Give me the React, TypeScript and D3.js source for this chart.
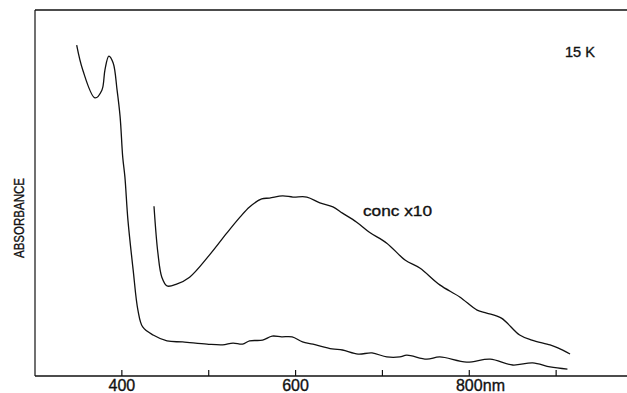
import * as d3 from 'd3';

// absorption spectrum at 15 K, arbitrary absorbance units (0 = baseline, 1 = top of frame)
const lowerNm = [348, 355, 369, 377, 380.5, 385, 390, 394.5, 398, 401, 403.5, 407, 413, 418.5, 424, 436, 452, 470, 498, 516, 528, 539, 547, 562, 573, 584, 596, 608, 620, 642, 654, 672, 688, 705, 720, 728, 751, 766, 797, 824, 850, 873, 893, 913];
const lowerAbs = [0.904, 0.836, 0.76, 0.781, 0.836, 0.874, 0.855, 0.781, 0.708, 0.598, 0.544, 0.426, 0.29, 0.18, 0.134, 0.112, 0.096, 0.093, 0.087, 0.085, 0.09, 0.087, 0.096, 0.098, 0.109, 0.107, 0.107, 0.093, 0.087, 0.074, 0.071, 0.06, 0.063, 0.052, 0.052, 0.057, 0.046, 0.052, 0.038, 0.046, 0.03, 0.036, 0.025, 0.019];

// same sample, concentration x10
const concNm = [437, 441.5, 446, 452, 463, 478, 501, 521, 536, 547, 561, 570, 585, 597, 613, 628, 643, 654, 670, 685, 705, 726, 743, 766, 789, 809, 820, 837, 858, 872, 893, 902, 916];
const concAbs = [0.464, 0.336, 0.27, 0.246, 0.251, 0.27, 0.331, 0.391, 0.434, 0.462, 0.484, 0.486, 0.492, 0.489, 0.489, 0.473, 0.462, 0.445, 0.421, 0.393, 0.363, 0.317, 0.295, 0.249, 0.216, 0.18, 0.172, 0.158, 0.112, 0.098, 0.085, 0.077, 0.06];

const majorTicks = [400, 600, 800];
const minorTicks = [500, 700, 900];

const W = 627;
const H = 393;
const font = '"Liberation Sans", Arial, sans-serif';
const ink = '#111';

export default function App() {
  const x = d3.scaleLinear().domain([300, 1000]).range([35, 643]);
  const y = d3.scaleLinear().domain([0, 1]).range([376, 10]);

  const line = d3
    .line<[number, number]>()
    .x((d) => x(d[0]))
    .y((d) => y(d[1]))
    .curve(d3.curveCatmullRom.alpha(0.5));

  const lower = lowerNm.map((n, i) => [n, lowerAbs[i]] as [number, number]);
  const conc = concNm.map((n, i) => [n, concAbs[i]] as [number, number]);

  // text a bit heavier than Liberation regular, like the printed labels
  const txt = { fill: ink, stroke: ink, strokeWidth: 0.35 };

  return (
    <svg width={W} height={H} style={{ position: 'absolute', left: 0, top: 0, background: '#fff' }} fontFamily={font}>
      <rect width={W} height={H} fill="#fff" />
      {/* frame */}
      <line x1={x(300)} x2={W} y1={y(1)} y2={y(1)} stroke={ink} strokeWidth={1.4} />
      <line x1={x(300)} x2={x(300)} y1={y(1)} y2={y(0)} stroke={ink} strokeWidth={1.2} />
      <line x1={x(300)} x2={W} y1={y(0)} y2={y(0)} stroke={ink} strokeWidth={1.6} />

      {[...majorTicks, ...minorTicks].map((t) => (
        <line key={t} x1={x(t)} x2={x(t)} y1={y(0)} y2={y(0) - 6} stroke={ink} strokeWidth={1.2} />
      ))}
      {majorTicks.map((t) => (
        <text key={t} x={x(t)} y={391} fontSize={16} textAnchor="middle" {...txt}>
          {t}
        </text>
      ))}
      <text x={x(800) + 13.5} y={391} fontSize={16} {...txt}>
        nm
      </text>

      <text
        transform={`translate(24,218) rotate(-90)`}
        fontSize={15.5}
        textAnchor="middle"
        textLength={80}
        lengthAdjust="spacingAndGlyphs"
        {...txt}
      >
        ABSORBANCE
      </text>

      <path d={line(lower) ?? ''} fill="none" stroke={ink} strokeWidth={1.3} />
      <path d={line(conc) ?? ''} fill="none" stroke={ink} strokeWidth={1.3} />

      <text x={363} y={216} fontSize={15} textLength={69} lengthAdjust="spacingAndGlyphs" {...txt}>
        conc x10
      </text>
      <text x={565} y={57} fontSize={15} textLength={30} lengthAdjust="spacingAndGlyphs" {...txt}>
        15 K
      </text>
    </svg>
  );
}
